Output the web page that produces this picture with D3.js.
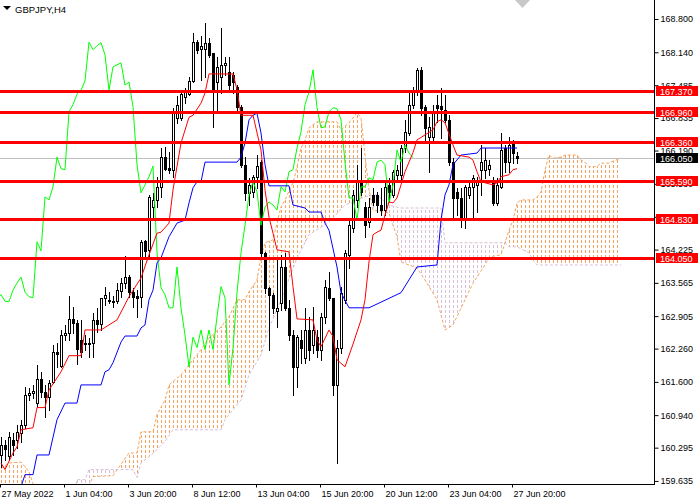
<!DOCTYPE html>
<html lang="en">
<head>
<meta charset="UTF-8">
<title>GBPJPY,H4</title>
<script src="https://d3js.org/d3.v7.min.js"></script>
<style>
  body { margin: 0; background: #fff; }
  svg { display: block; font-family: "Liberation Sans", Arial, sans-serif; }
</style>
</head>
<body>
<svg width="700" height="500"></svg>
<script>
// H4 candles, bar 0 = 27 May 2022
const opens = [160.15,160.35,160.13,160.45,160.45,160.59,160.75,161.34,161.38,161.18,
  161.66,161.40,161.30,161.60,162.20,161.92,162.53,162.57,162.85,162.77,
  162.43,162.37,162.35,162.37,162.83,162.75,163.27,163.22,163.21,163.21,
  163.40,163.56,163.68,163.38,163.31,163.29,164.40,164.22,165.07,165.21,
  165.47,166.06,165.85,165.81,166.84,166.84,167.25,167.31,167.57,168.34,
  168.21,168.21,168.33,168.13,167.55,167.65,167.89,167.75,167.69,167.45,
  167.06,165.91,165.35,165.37,165.67,165.96,164.16,163.47,163.33,163.01,
  163.17,163.88,163.07,162.53,161.90,162.43,162.08,162.63,162.33,162.49,
  162.24,162.89,163.47,163.27,161.54,162.28,163.23,164.12,164.66,165.21,
  165.61,165.07,164.77,165.31,165.31,165.11,165.01,165.51,165.31,165.71,
  165.71,166.24,166.54,167.10,167.35,167.79,167.06,166.46,166.46,167.10,
  167.08,167.00,166.80,165.96,165.37,165.25,164.81,165.31,165.47,165.51,
  165.81,165.81,165.83,165.57,165.15,165.47,166.24,165.96,166.34,166.08];
const highs = [160.51,160.45,160.61,160.59,160.75,160.85,161.50,161.48,161.54,161.94,
  161.80,161.54,161.64,162.33,162.37,162.63,162.73,163.31,163.09,162.83,
  162.83,162.53,162.47,162.97,163.07,163.27,163.49,163.39,163.31,163.56,
  163.66,164.10,163.72,163.46,163.42,164.42,164.42,165.31,165.35,165.67,
  166.24,166.26,166.16,167.04,167.27,167.39,167.43,167.65,168.52,168.38,
  168.46,168.72,168.43,168.13,168.05,168.62,168.05,168.05,167.75,167.49,
  167.10,166.06,165.65,165.71,166.10,166.00,164.18,163.49,163.37,164.02,
  164.12,164.16,163.23,162.63,162.53,162.63,163.07,162.89,163.09,162.63,
  162.97,163.62,163.78,163.27,162.43,163.49,164.22,164.81,165.41,165.91,
  166.24,165.17,165.25,165.45,165.37,165.45,165.57,165.65,165.81,165.91,
  166.30,166.80,167.35,167.45,167.83,167.85,167.10,166.86,167.10,167.29,
  167.43,167.29,166.90,166.04,165.45,165.45,165.51,165.61,165.71,165.67,
  166.30,166.24,166.00,165.67,165.65,166.54,166.30,166.46,166.40,166.16];
const lows = [159.92,160.05,160.05,160.15,160.29,160.41,160.69,161.24,161.28,161.11,
  161.30,160.91,161.05,161.58,161.90,161.90,162.43,162.43,162.57,161.96,
  162.10,162.24,162.10,162.10,162.59,162.63,163.13,163.17,163.09,163.17,
  163.29,163.47,163.29,163.09,162.89,163.09,164.08,164.08,164.81,165.07,
  165.27,165.81,165.75,165.67,166.74,166.80,167.13,167.29,167.55,168.13,
  167.59,167.65,168.05,166.66,166.94,167.33,167.69,167.35,167.33,167.00,
  165.87,165.21,165.11,165.27,165.45,164.08,163.37,162.24,162.97,162.69,
  163.03,163.03,162.43,161.34,161.50,161.98,161.98,162.04,162.18,162.10,
  162.04,162.77,163.23,161.34,159.99,162.18,163.17,163.86,164.58,165.07,
  165.31,164.48,164.67,165.11,164.97,164.91,164.91,165.17,165.27,165.61,
  165.57,166.16,166.50,167.04,167.29,166.90,166.40,165.77,166.36,166.76,
  166.44,166.76,165.91,164.81,164.91,164.67,164.66,165.25,164.87,164.97,
  165.31,165.65,165.71,165.11,165.11,165.45,165.77,165.77,165.95,165.95];
const closes = [160.35,160.27,160.51,160.35,160.61,160.75,161.34,161.38,161.42,161.66,
  161.40,161.30,161.58,162.20,162.16,162.53,162.57,162.85,162.77,162.26,
  162.20,162.35,162.37,162.83,162.75,163.27,163.33,163.20,163.19,163.42,
  163.56,163.68,163.38,163.29,163.27,164.38,164.20,165.27,165.21,165.47,
  166.06,165.83,165.81,166.96,167.10,167.31,167.39,167.57,168.34,168.19,
  168.27,168.33,168.09,167.39,167.85,167.89,167.93,167.49,167.55,167.06,
  165.91,165.35,165.51,165.67,165.88,164.16,163.47,163.33,163.07,163.07,
  163.88,163.07,162.53,161.90,162.49,162.28,162.63,162.24,162.63,162.24,
  162.89,163.49,163.27,161.54,162.28,163.37,164.16,164.71,165.31,165.57,
  165.37,164.71,165.07,165.17,165.11,165.01,165.47,165.37,165.77,165.81,
  166.24,166.56,167.10,167.35,167.79,167.04,166.64,166.66,166.96,167.04,
  167.02,166.80,165.96,165.25,165.25,164.81,165.47,165.47,165.65,165.61,
  165.96,166.00,165.91,165.15,165.51,166.20,165.96,166.30,166.14,166.05];

// Ichimoku lines as vertices (bar index, price)
const tenkanIdx = [0,1,3,4,5,8,9,11,12,15,17,20,21,25,27,29,32,35,37,39,40,42,43,45,47,48,50,51,52,58,
  59,60,63,65,66,67,68,69,72,73,74,78,79,80,82,83,84,86,88,90,91,92,93,94,95,96,97,98,99,101,
  103,104,106,108,109,110,111,113,114,117,118,119,120,123,124,125,127,128,129];
const tenkanVal = [159.99,159.86,160.19,160.31,160.65,160.69,161.09,161.09,161.44,161.80,
  162.12,162.12,162.63,162.63,162.73,162.83,163.29,163.66,164.12,164.55,
  164.57,164.75,165.41,166.34,166.85,166.89,167.13,167.33,167.71,167.71,
  167.40,166.89,166.89,166.20,165.41,164.87,164.55,164.22,164.18,163.49,
  162.85,162.83,162.43,162.30,162.63,162.50,162.04,161.90,162.35,162.83,
  163.23,163.98,164.52,164.57,164.61,164.91,165.17,165.15,165.25,165.77,
  166.15,166.40,166.50,166.60,166.76,166.80,166.74,166.30,166.10,166.06,
  166.00,165.77,165.57,165.51,165.55,165.67,165.71,165.81,165.83];
const kijunIdx = [0,5,6,8,9,12,14,16,19,20,25,26,27,28,30,31,34,35,36,37,38,39,40,42,44,46,47,48,49,50,51,
  59,60,61,62,63,64,65,66,67,72,73,76,77,80,81,82,84,85,87,92,100,104,109,110,111,112,113,115,119,120,129];
const kijunVal = [159.40,159.52,159.76,159.76,160.15,160.15,160.85,161.18,161.18,161.54,161.54,
  161.80,161.84,161.98,162.39,162.51,162.51,162.67,162.73,163.23,163.42,
  163.96,164.06,164.48,164.75,164.81,165.15,165.45,165.57,165.57,165.96,
  165.96,166.06,166.34,166.80,166.89,166.93,166.54,165.91,165.49,165.49,
  165.11,165.05,164.97,164.97,164.75,164.61,163.88,163.37,163.07,163.07,
  163.37,163.88,163.92,164.81,165.31,165.51,165.91,166.10,166.14,166.24,166.24];
const spanAIdx = [-1,2,5,7,8,10,21,23,28,32,34,35,38,39,41,42,45,47,50,52,
  55,57,59,61,62,64,65,66,68,69,70,71,73,74,75,76,77,79,84,85,
  87,89,90,91,92,93,97,99,100,104,106,109,111,113,116,118,121,122,125,126,
  127,128,129,130,133,134,135,136,137,138,140,141,144,145,146,147,149,150,152,153,155];
const spanAVal = [159.82,159.99,160.01,159.82,159.58,159.35,159.35,159.72,159.74,160.19,
  160.19,160.61,160.61,160.95,161.24,161.54,161.74,161.94,162.24,162.47,
  162.69,162.89,163.23,163.23,163.39,163.62,164.08,164.36,164.42,164.75,
  165.07,165.21,165.55,165.87,166.24,166.40,166.64,166.76,166.76,166.60,
  166.74,166.94,166.84,166.10,165.41,165.01,164.95,164.48,163.98,163.86,
  163.62,163.23,162.63,162.73,163.23,163.56,163.92,164.08,164.12,164.36,
  164.61,164.81,165.15,165.21,165.21,165.27,165.37,165.80,166.10,166.04,
  166.06,166.10,166.10,166.00,165.96,165.87,165.87,165.94,165.94,165.98,166.04];
const spanBIdx = [-1,18,19,21,22,33,34,35,38,41,43,55,56,58,60,62,65,67,70,74,
  77,82,86,91,94,97,100,110,111,126,127,129,132,133,134,155];
const spanBVal = [159.30,159.30,159.66,159.66,159.86,159.86,159.70,159.99,160.18,160.42,
  160.65,160.65,160.85,161.05,161.24,161.74,162.14,162.67,163.23,164.06,
  164.52,164.77,165.11,165.27,165.31,165.11,165.05,165.05,164.36,164.36,
  164.28,164.28,164.16,164.02,163.92,163.92];
const chikouShift = 26;

const levels = [167.370, 166.960, 166.360, 165.590, 164.830, 164.050];
const bid = 166.050;
const priceTicks = [168.800,168.140,167.485,166.835,166.190,165.530,164.875,164.225,
  163.565,162.905,162.260,161.600,160.940,160.295,159.635];
const timeIdx = [0,16,32,48,64,80,96,112,128];
const timeLabels = ["27 May 2022","1 Jun 04:00","3 Jun 20:00","8 Jun 12:00","13 Jun 04:00",
  "15 Jun 20:00","20 Jun 12:00","23 Jun 04:00","27 Jun 20:00"];

const plotW = 654, plotH = 484;
const x = d3.scaleLinear().domain([0, 163]).range([1, 653]);
const y = d3.scaleLinear().domain([159.574, 169.177]).range([plotH, 0]);

const svg = d3.select("svg");
svg.append("rect").attr("width", 700).attr("height", 500).attr("fill", "#fff");
const defs = svg.append("defs");
defs.append("clipPath").attr("id", "plot")
  .append("rect").attr("width", plotW).attr("height", plotH);

const pts = (idx, val) => idx.map((d, k) => [x(d), y(val[k])]);
const line = d3.line();
const ptsA = pts(spanAIdx, spanAVal);
const ptsB = pts(spanBIdx, spanBVal);
const between = ptsA.concat(ptsB.slice().reverse());
const xL = ptsB[0][0], xR = ptsB[ptsB.length - 1][0];

defs.append("clipPath").attr("id", "cloud").append("path")
  .attr("d", line(between) + "Z");
defs.append("clipPath").attr("id", "aboveB").append("path")
  .attr("d", line([[xL, -10], ...ptsB, [xR, -10]]) + "Z");
defs.append("clipPath").attr("id", "belowB").append("path")
  .attr("d", line([[xL, plotH + 10], ...ptsB, [xR, plotH + 10]]) + "Z");

const g = svg.append("g").attr("clip-path", "url(#plot)");

// cloud: dotted verticals at every bar, cut to the area between the spans
const bars = d3.range(-1, 157);
function comb(side, color) {
  g.append("g").attr("clip-path", `url(#${side})`)
    .append("g").attr("clip-path", "url(#cloud)")
    .selectAll("line").data(bars).join("line")
    .attr("x1", d => Math.round(x(d)) + 0.5).attr("x2", d => Math.round(x(d)) + 0.5)
    .attr("y1", 0).attr("y2", plotH)
    .attr("stroke", color).attr("stroke-dasharray", "3,2");
}
comb("aboveB", "#f4a460");
comb("belowB", "#d8bfd8");
g.append("path").attr("d", line(ptsA)).attr("fill", "none")
  .attr("stroke", "#f4a460").attr("stroke-dasharray", "3,2");
g.append("path").attr("d", line(ptsB)).attr("fill", "none")
  .attr("stroke", "#d8bfd8").attr("stroke-dasharray", "3,2");

// bid line
const yb = Math.round(y(bid)) + 0.5;
g.append("line").attr("x1", 0).attr("x2", plotW).attr("y1", yb).attr("y2", yb)
  .attr("stroke", "#c0c0c0");

// candles
const candles = g.append("g");
closes.forEach((c, i) => {
  const px = Math.round(x(i));
  const o = opens[i];
  candles.append("line")
    .attr("x1", px + 0.5).attr("x2", px + 0.5)
    .attr("y1", Math.round(y(highs[i]))).attr("y2", Math.round(y(lows[i])) + 1)
    .attr("stroke", "#000");
  const top = Math.round(y(Math.max(o, c))), bot = Math.round(y(Math.min(o, c)));
  candles.append("rect")
    .attr("x", px - 0.5).attr("y", top + 0.5)
    .attr("width", 2).attr("height", Math.max(bot - top, 0))
    .attr("fill", c >= o ? "#fff" : "#000").attr("stroke", "#000");
});

// ichimoku lines
const chikou = closes.map((c, i) => [i - chikouShift, c]).filter(d => d[0] >= -1);
g.append("path").attr("d", line(chikou.map(d => [x(d[0]), y(d[1])])))
  .attr("fill", "none").attr("stroke", "#00ff00");
g.append("path").attr("d", line(pts(kijunIdx, kijunVal)))
  .attr("fill", "none").attr("stroke", "#0000ff");
g.append("path").attr("d", line(pts(tenkanIdx, tenkanVal)))
  .attr("fill", "none").attr("stroke", "#ff0000");

// horizontal levels
levels.forEach(v => {
  const yl = Math.round(y(v)) + 0.5;
  g.append("line").attr("x1", 0).attr("x2", plotW).attr("y1", yl).attr("y2", yl)
    .attr("stroke", "#ff0000").attr("stroke-width", 3);
});

// axes
const yAxis = svg.append("g").attr("transform", `translate(${plotW + 0.5},0)`)
  .call(d3.axisRight(y).tickValues(priceTicks).tickFormat(d3.format(".3f"))
    .tickSize(4).tickPadding(2).tickSizeOuter(0));
const xAxis = svg.append("g").attr("transform", `translate(0,${plotH + 0.5})`)
  .call(d3.axisBottom(x).tickValues(timeIdx).tickFormat((d, k) => timeLabels[k])
    .tickSize(3).tickPadding(3).tickSizeOuter(0));
[yAxis, xAxis].forEach(a => {
  a.select(".domain").remove();
  a.selectAll("line").attr("stroke", "#000");
  a.selectAll("text").attr("fill", "#000").attr("font-size", 9)
    .attr("font-family", "Liberation Sans, Arial, sans-serif");
});
xAxis.selectAll("text").attr("text-anchor", "start").attr("x", 1);
xAxis.selectAll(".tick").attr("transform", d => `translate(${Math.round(x(d)) - 0.5},0)`);

svg.append("line").attr("x1", plotW + 0.5).attr("x2", plotW + 0.5)
  .attr("y1", 0).attr("y2", plotH + 1).attr("stroke", "#000");
svg.append("line").attr("x1", 0).attr("x2", plotW + 1)
  .attr("y1", plotH + 0.5).attr("y2", plotH + 0.5).attr("stroke", "#000");

// price labels on the axis (drawn over the scale, as in the terminal)
function priceTag(v, color) {
  const yl = Math.round(y(v));
  svg.append("rect").attr("x", 656).attr("y", yl - 5).attr("width", 42).attr("height", 10)
    .attr("fill", color);
  svg.append("text").attr("x", 660).attr("y", yl + 3.5).attr("fill", "#fff")
    .attr("font-size", 9).text(d3.format(".3f")(v));
}
levels.forEach(v => priceTag(v, "#ff0000"));
priceTag(bid, "#000");

// title and shift marker
svg.append("path").attr("d", "M3,6L11,6L7,10Z").attr("fill", "#000");
svg.append("text").attr("x", 15).attr("y", 13).attr("font-size", 9.5).attr("fill", "#000")
  .text("GBPJPY,H4");
svg.append("path").attr("d", "M515,0L530,0L522.5,8Z").attr("fill", "#c8c8c8");
</script>
</body>
</html>
